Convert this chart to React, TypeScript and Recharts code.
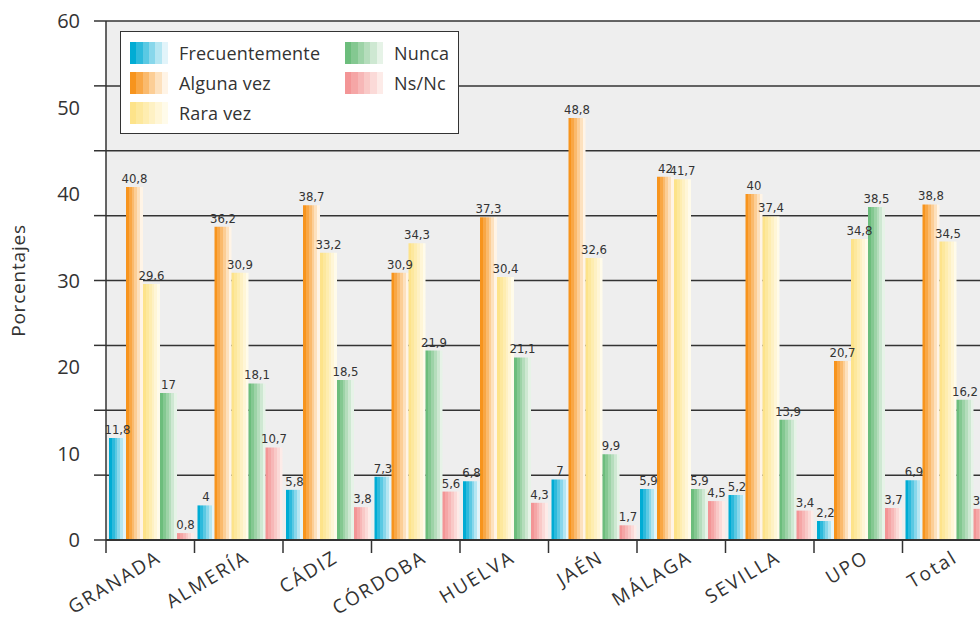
import { BarChart, Bar, XAxis, YAxis, CartesianGrid, Legend, LabelList } from "recharts"

const regions = ["GRANADA", "ALMERÍA", "CÁDIZ", "CÓRDOBA", "HUELVA", "JAÉN", "MÁLAGA", "SEVILLA", "UPO", "Total"]
const frecuentemente = [11.8, 4, 5.8, 7.3, 6.8, 7, 5.9, 5.2, 2.2, 6.9]
const algunaVez = [40.8, 36.2, 38.7, 30.9, 37.3, 48.8, 42, 40, 20.7, 38.8]
const raraVez = [29.6, 30.9, 33.2, 34.3, 30.4, 32.6, 41.7, 37.4, 34.8, 34.5]
const nunca = [17, 18.1, 18.5, 21.9, 21.1, 9.9, 5.9, 13.9, 38.5, 16.2]
const nsnc = [0.8, 10.7, 3.8, 5.6, 4.3, 1.7, 4.5, 3.4, 3.7, 3.6]

// labelled values every 10, tick marks and grid lines every 7.5
const labelTicks = [0, 10, 20, 30, 40, 50, 60]
const markTicks = [0, 7.5, 15, 22.5, 30, 37.5, 45, 52.5, 60]
const allTicks = Array.from(new Set([...labelTicks, ...markTicks])).sort((a, b) => a - b)

const data = regions.map((region, i) => ({
  region,
  frecuentemente: frecuentemente[i],
  algunaVez: algunaVez[i],
  raraVez: raraVez[i],
  nunca: nunca[i],
  nsnc: nsnc[i],
}))

const SERIES = [
  { key: "frecuentemente", name: "Frecuentemente", from: "#00acd4", to: "#e2f4fa" },
  { key: "algunaVez", name: "Alguna vez", from: "#f7941d", to: "#fff4e6" },
  { key: "raraVez", name: "Rara vez", from: "#fde38a", to: "#fffbea" },
  { key: "nunca", name: "Nunca", from: "#6cbd7c", to: "#e6f3e7" },
  { key: "nsnc", name: "Ns/Nc", from: "#f39596", to: "#fdebe8" },
]

const FONT = "'Open Sans', 'DejaVu Sans', sans-serif"
const NARROW = "'Liberation Sans Narrow', 'DejaVu Sans Condensed', sans-serif"
const INK = "#333333"
const BAND = 88.5 // width of one category on screen
const STEPS = 6

// the bars are drawn with banded (stepped) gradients
function mix(a: string, b: string, t: number) {
  const pa = [1, 3, 5].map((i) => parseInt(a.slice(i, i + 2), 16))
  const pb = [1, 3, 5].map((i) => parseInt(b.slice(i, i + 2), 16))
  return `rgb(${pa.map((v, k) => Math.round(v + (pb[k] - v) * t)).join(",")})`
}

function bands(from: string, to: string) {
  const out: { offset: number; color: string }[] = []
  for (let i = 0; i < STEPS; i++) {
    const c = mix(from, to, i / (STEPS - 1))
    out.push({ offset: i / STEPS, color: c }, { offset: (i + 1) / STEPS, color: c })
  }
  return out
}

const fmt = (v: any) => String(v).replace(".", ",")

function RegionTick({ x, y, payload }: any) {
  const lx = x - BAND / 2
  const tx = x + 12
  const ty = y + 21
  return (
    <g>
      <line x1={lx} y1={y} x2={lx} y2={y + 13} stroke={INK} strokeWidth={1.5} />
      <text
        x={tx}
        y={ty}
        transform={`rotate(-31 ${tx} ${ty})`}
        textAnchor="end"
        fontSize={19}
        letterSpacing={2}
        fontFamily={FONT}
        fill={INK}
      >
        {payload.value}
      </text>
    </g>
  )
}

function ValueTick({ x, y, payload }: any) {
  const v = payload.value
  return (
    <g>
      {markTicks.includes(v) && <line x1={x - 12} y1={y} x2={x} y2={y} stroke={INK} strokeWidth={1.5} />}
      {labelTicks.includes(v) && (
        <text x={x - 26} y={y} dy="0.36em" textAnchor="end" fontSize={20} fontFamily={FONT} fill={INK}>
          {v}
        </text>
      )}
    </g>
  )
}

function LegendBox() {
  const cell = (s: (typeof SERIES)[number]) => {
    const stops = bands(s.from, s.to)
      .map((b) => `${b.color} ${(b.offset * 100).toFixed(2)}%`)
      .join(", ")
    return (
      <div key={s.key} style={{ display: "flex", alignItems: "center", height: 30 }}>
        <div style={{ width: 38, height: 22, background: `linear-gradient(to right, ${stops})` }} />
        <span style={{ marginLeft: 11, fontSize: 18, letterSpacing: 0.2, color: INK, fontFamily: FONT }}>{s.name}</span>
      </div>
    )
  }
  return (
    <div
      style={{
        width: 339,
        height: 103,
        boxSizing: "border-box",
        border: `1.5px solid ${INK}`,
        background: "#ffffff",
        display: "flex",
        padding: "6px 0 0 9px",
      }}
    >
      <div style={{ width: 215 }}>{SERIES.slice(0, 3).map(cell)}</div>
      <div>{SERIES.slice(3).map(cell)}</div>
    </div>
  )
}

export default function App() {
  return (
    <div style={{ position: "absolute", top: 0, left: 0, width: 980, height: 626, overflow: "hidden", background: "#fff" }}>
      <BarChart
        width={1000}
        height={626}
        data={data}
        margin={{ top: 21, right: 9, bottom: 0, left: 0 }}
        barCategoryGap={3}
        barGap={0}
      >
        <defs>
          {SERIES.map((s) => (
            <linearGradient key={s.key} id={`grad-${s.key}`} x1="0" y1="0" x2="1" y2="0">
              {bands(s.from, s.to).map((b, i) => (
                <stop key={i} offset={b.offset} stopColor={b.color} />
              ))}
            </linearGradient>
          ))}
        </defs>
        <CartesianGrid
          vertical={false}
          horizontalValues={markTicks}
          fill="#eeeeee"
          fillOpacity={1}
          stroke={INK}
          strokeWidth={1.5}
        />
        <XAxis
          dataKey="region"
          interval={0}
          height={86}
          tickLine={false}
          tickSize={0}
          tickMargin={0}
          axisLine={{ stroke: INK, strokeWidth: 2 }}
          tick={<RegionTick />}
        />
        <YAxis
          width={106}
          domain={[0, 60]}
          ticks={allTicks}
          interval={0}
          tickLine={false}
          tickSize={0}
          tickMargin={0}
          axisLine={{ stroke: INK, strokeWidth: 1.5 }}
          tick={<ValueTick />}
          label={{
            content: ({ viewBox }: any) => {
              const cy = viewBox.y + viewBox.height / 2
              return (
                <text
                  x={25}
                  y={cy}
                  transform={`rotate(-90 25 ${cy})`}
                  textAnchor="middle"
                  fontSize={19}
                  letterSpacing={0.8}
                  fontFamily={FONT}
                  fill={INK}
                >
                  Porcentajes
                </text>
              )
            },
          }}
        />
        <Legend
          layout="vertical"
          align="center"
          verticalAlign="middle"
          content={() => <LegendBox />}
          wrapperStyle={{ top: 31, left: 120, width: 339, height: 103 }}
        />
        {SERIES.map((s) => (
          <Bar key={s.key} dataKey={s.key} name={s.name} fill={`url(#grad-${s.key})`} isAnimationActive={false}>
            <LabelList
              dataKey={s.key}
              position="top"
              offset={4}
              formatter={fmt}
              fontSize={13}
              fontFamily={NARROW}
              fill={INK}
            />
          </Bar>
        ))}
      </BarChart>
    </div>
  )
}
